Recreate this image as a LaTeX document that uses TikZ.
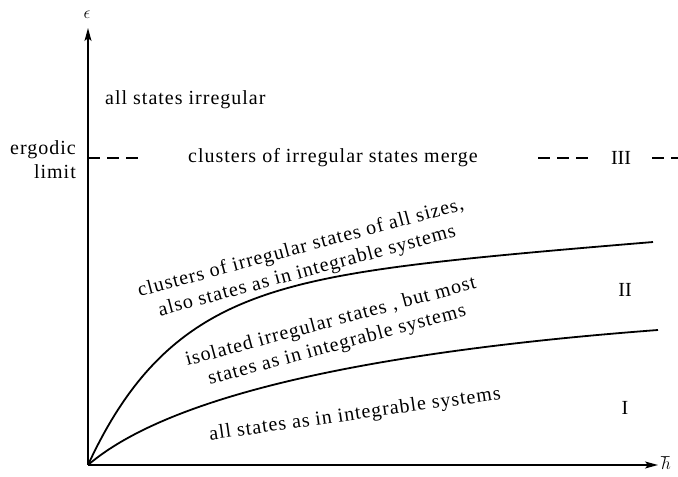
\documentclass[tikz,border=0pt]{standalone}
\usepackage{fontspec}
\setmainfont{Liberation Serif}
\newfontfamily\platefont[LetterSpace=5]{Liberation Serif}
\usepackage{tikz}
\usetikzlibrary{arrows.meta,positioning}
\tikzset{
  axisline/.style={-{Stealth[length=13pt,width=7pt,inset=3pt]}, line width=1.5pt, draw=black},
  border/.style={line width=1.8pt, draw=black},
  limitline/.style={line width=1.5pt, dash pattern=on 12pt off 7pt},
  regiontext/.style={font=\platefont\fontsize{20}{24}\selectfont, align=center, inner sep=1pt},
  regionmark/.style={font=\fontsize{20}{24}\selectfont, inner sep=1pt}
}

\begin{document}
\begin{tikzpicture}[x=1pt,y=1pt]
  \useasboundingbox (0,0) rectangle (678,477);
  \coordinate (origin) at (88,12);
  \coordinate (ytip) at (88,449);
  \coordinate (xtip) at (658,12);
  \coordinate (lowerend) at (658,147);
  \draw[axisline] (origin) -- (ytip);
  \draw[axisline] (origin) -- (xtip);
  \node[inner sep=0pt, font=\fontsize{16}{16}\selectfont] (eps) at (87,462) {$\epsilon$};
  \node[inner sep=0pt, font=\fontsize{17}{17}\selectfont] (hbar) at (666,14) {$\hbar$};
  % region boundaries
  \draw[border] plot[domain=0:565, samples=120, smooth]
    ({88+\x}, {12+178*(1-exp(-\x/85))+0.08*\x});
  \draw[border] (origin) .. controls (150,65) and (300,120) .. (lowerend);
  % ergodic limit
  \draw[limitline] (88,319) -- (140,319);
  \draw[limitline] (538,319) -- (592,319);
  \draw[limitline] (652,319) -- (678,319);
  \node[regiontext, anchor=east, align=right] (ergodic) at (77,317) {ergodic\\limit};
  \node[regiontext] (merge) at (333,319) {clusters of irregular states merge};
  \node[regionmark] (regIII) at (621,319) {III};
  \node[regionmark] (regII) at (625,187) {II};
  \node[regionmark] (regI) at (625,69) {I};
  \node[regiontext, anchor=west] (irregular) at (104,377) {all states irregular};
  \node[regiontext, rotate=15] (clusters) at (304,217) {clusters of irregular states of all sizes,\\also states as in integrable systems};
  \node[regiontext, rotate=15] (isolated) at (334,143) {isolated irregular states , but most\\states as in integrable systems};
  \node[regiontext, rotate=8] (integrable) at (355,62) {all states as in integrable systems};
\end{tikzpicture}
\end{document}
